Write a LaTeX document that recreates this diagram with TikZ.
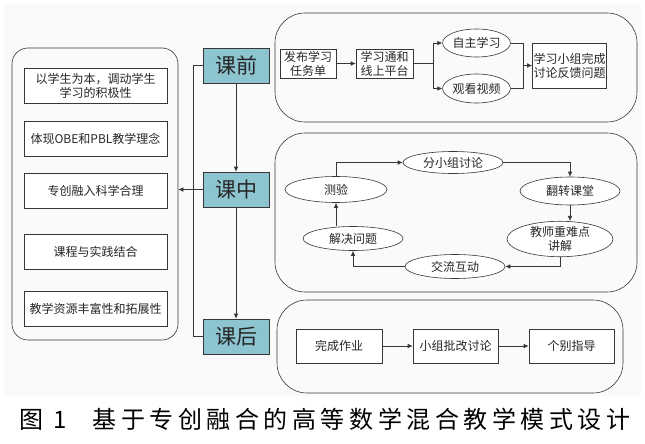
\documentclass[tikz,border=0pt]{standalone}
\usepackage{fontspec}
\setmainfont{Noto Sans CJK SC}
\usetikzlibrary{arrows.meta,shapes.geometric}
\definecolor{stagecol}{RGB}{140,196,208}
\definecolor{linecol}{RGB}{55,55,55}
\tikzset{
  ln/.style={draw=linecol,line width=0.6pt},
  arr/.style={ln,-{Latex[length=5pt,width=4.5pt]}},
  box/.style={ln,fill=white,align=center,inner sep=1pt,text=black!85,
    font=\fontsize{12}{14}\selectfont},
  oval/.style={box,ellipse,inner sep=0pt},
  stage/.style={ln,fill=stagecol,minimum width=66pt,minimum height=35pt,
    text=black!85,font=\fontsize{21}{24}\selectfont},
  panel/.style={ln,rounded corners=30pt}
}

\begin{document}
\begin{tikzpicture}[x=1pt,y=-1pt]
\useasboundingbox (0,0) rectangle (645,444);
\fill[black!2] (4,4) rectangle (641,396);
% left column
\node[ln,rounded corners=16pt,minimum width=166pt,minimum height=292pt] (goal) at (95,194) {};
\node[box,minimum width=143pt,minimum height=35pt] (g1) at (95.5,85.5) {以学生为本，调动学生\\学习的积极性};
\node[box,minimum width=143pt,minimum height=35pt] (g2) at (95.5,138.5) {体现OBE和PBL教学理念};
\node[box,minimum width=143pt,minimum height=35pt] (g3) at (95.5,191) {专创融入科学合理};
\node[box,minimum width=143pt,minimum height=35pt] (g4) at (95.5,252) {课程与实践结合};
\node[box,minimum width=143pt,minimum height=35pt] (g5) at (95.5,309) {教学资源丰富性和拓展性};
% stages
\node[stage] (pre) at (236,65.5) {课前};
\node[stage] (mid) at (236,189.5) {课中};
\node[stage] (post) at (236,336.5) {课后};
\draw[arr] (pre) -- (mid);
\draw[arr] (mid) -- (post);
\draw[ln] (pre.west) -- ++(-9,0) |- (post.west);
\draw[arr] (mid.west) -- (mid.west -| goal.east);
% before class
\draw[panel] (275,13) rectangle (637,122);
\node[box,minimum width=56pt,minimum height=29pt] (t1) at (308,63.5) {发布学习\\任务单};
\node[box,minimum width=57pt,minimum height=29pt] (t2) at (384.5,63.5) {学习通和\\线上平台};
\node[oval,minimum width=67pt,minimum height=28pt] (t3) at (476.5,43) {自主学习};
\node[oval,minimum width=67pt,minimum height=29pt] (t4) at (476.5,88.5) {观看视频};
\node[box,minimum width=67pt,minimum height=45pt] (t5) at (569.5,65.5) {学习小组完成\\讨论反馈问题};
\draw[arr] (t1) -- (t2);
\draw[ln] (t2.east) -- ++(20,0) coordinate (fork);
\draw[arr] (fork) |- (t3.west);
\draw[arr] (fork) |- (t4.west);
\coordinate (join) at (523,65.5);
\draw[ln] (t3.east) -| (join);
\draw[ln] (t4.east) -| (join);
\draw[arr] (join) -- (t5.west);
% in class
\draw[panel] (275,133) rectangle (637,292);
\node[oval,minimum width=100pt,minimum height=22pt] (m1) at (453,162.5) {分小组讨论};
\node[oval,minimum width=100pt,minimum height=28pt] (m2) at (570,191) {翻转课堂};
\node[oval,minimum width=106pt,minimum height=29pt] (m3) at (560,239) {教师重难点\\讲解};
\node[oval,minimum width=100pt,minimum height=24pt] (m4) at (455,266.5) {交流互动};
\node[oval,minimum width=100pt,minimum height=24pt] (m5) at (353,238.5) {解决问题};
\node[oval,minimum width=102pt,minimum height=26pt] (m6) at (336,189.5) {测验};
\draw[arr] (m6.north) |- (m1.west);
\draw[arr] (m1.east) -| (m2.north);
\draw[arr] (m2.south) -- (m2.south |- m3.north);
\draw[arr] (m3.south) |- (m4.east);
\draw[arr] (m4.west) -| (m5.south);
\draw[arr] (m6.south |- m5.north) -- (m6.south);
% after class
\draw[panel] (277,300) rectangle (623,393);
\node[box,minimum width=86pt,minimum height=34pt] (b1) at (339,346) {完成作业};
\node[box,minimum width=85pt,minimum height=34pt] (b2) at (455.5,346) {小组批改讨论};
\node[box,minimum width=85pt,minimum height=34pt] (b3) at (571.5,346) {个别指导};
\draw[arr] (b1) -- (b2);
\draw[arr] (b2) -- (b3);
% caption
\node[anchor=west,inner sep=0pt,font=\fontsize{24}{28}\selectfont\addfontfeature{LetterSpace=19}] (cap) at (19,419) {图 1\hspace{26pt}基于专创融合的高等数学混合教学模式设计};
\end{tikzpicture}
\end{document}
